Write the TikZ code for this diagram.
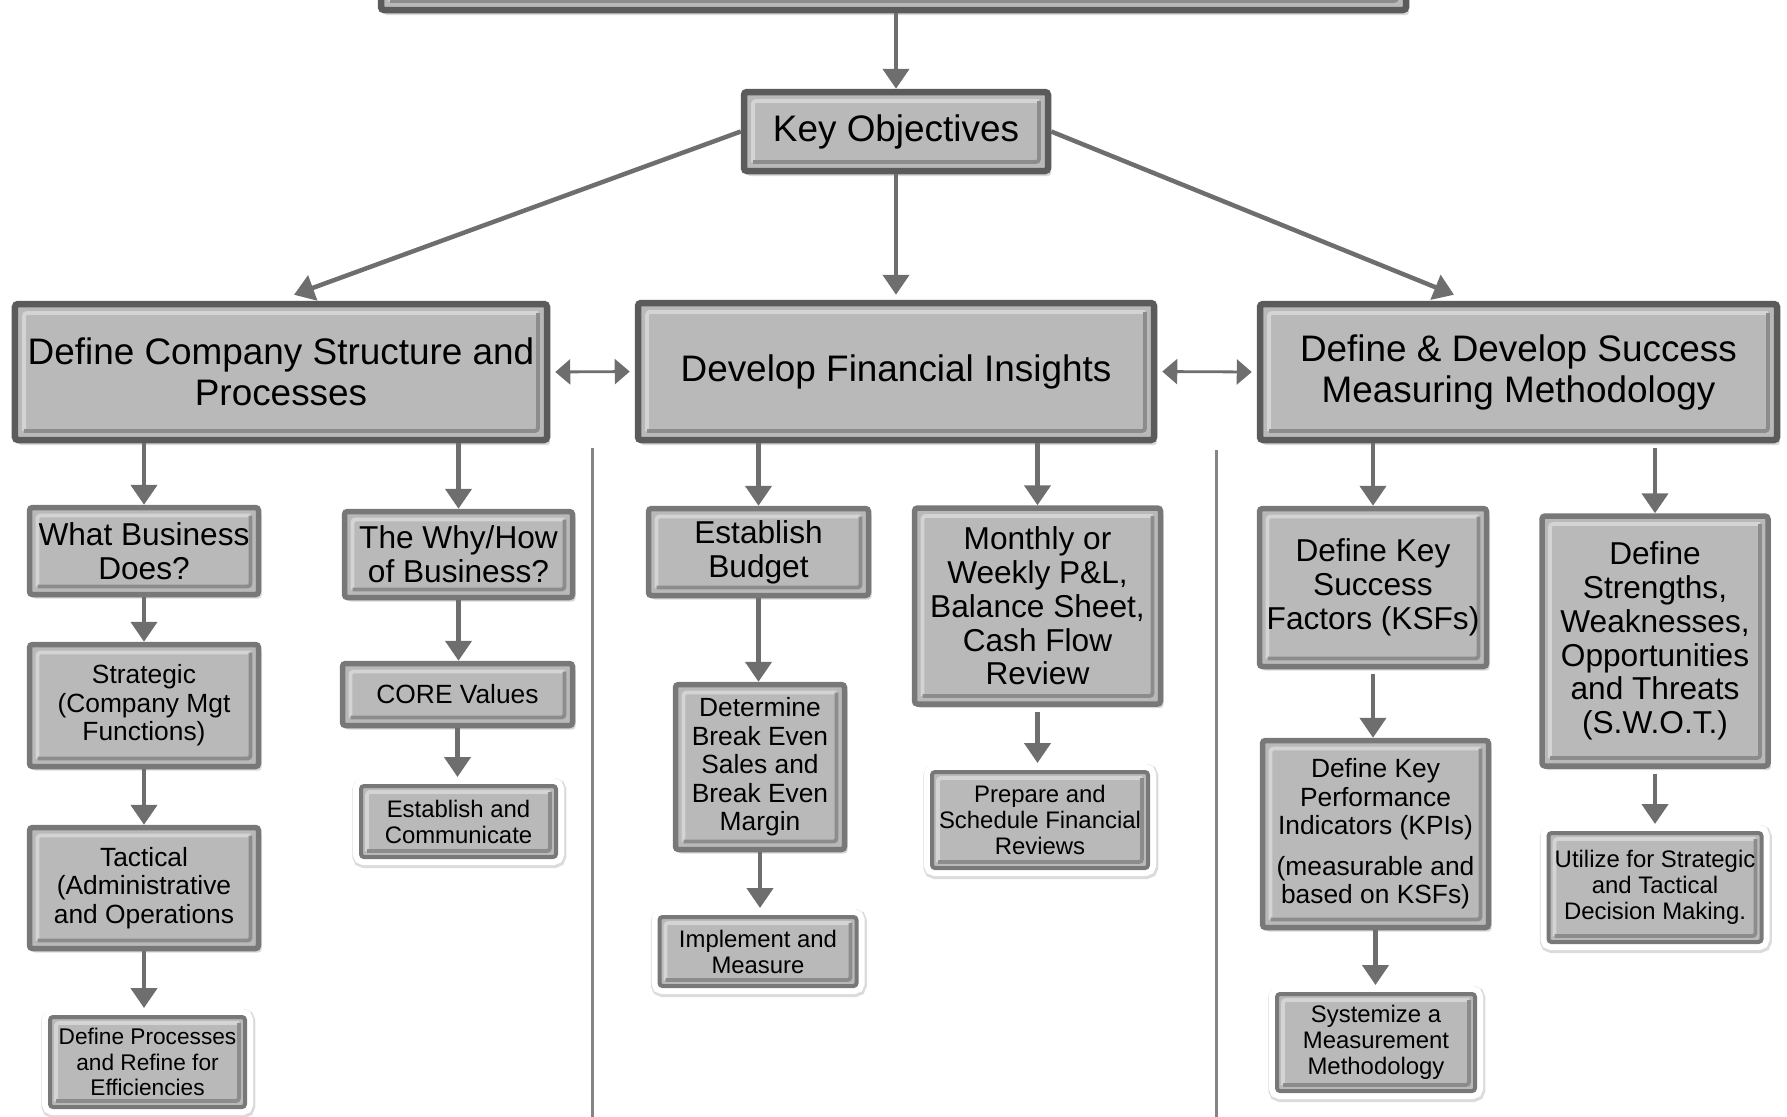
\documentclass[tikz,border=0pt]{standalone}
\usepackage{fontspec}
\setmainfont{Liberation Sans}
\usepackage{tikz}
\usetikzlibrary{arrows.meta,shadows}

\definecolor{boxface}{HTML}{B9B9B9}
\definecolor{edgedark}{HTML}{5B5B5B}
\definecolor{edgemid}{HTML}{787878}
\definecolor{linkgray}{HTML}{6E6E6E}
\definecolor{rulegray}{HTML}{858585}
\definecolor{bevlight}{HTML}{D4D4D4}
\definecolor{bevdark}{HTML}{8C8C8C}

\begin{document}
\begin{tikzpicture}[
bevelled/.style={path picture={
  \draw[bevlight,line width=1.1pt] ([shift={(#1,#1)}]path picture bounding box.south west) |- ([shift={(-#1,-#1)}]path picture bounding box.north east);
  \draw[bevdark,line width=1.1pt] ([shift={(#1,#1)}]path picture bounding box.south west) -| ([shift={(-#1,-#1)}]path picture bounding box.north east);
}},
boxbase/.style={fill=boxface, rounded corners=0.03cm, inner sep=0pt, align=center},
mainbox/.style={boxbase, draw=edgedark, line width=0.065cm, bevelled=0.09cm,
  drop shadow={shadow xshift=0.03cm, shadow yshift=-0.05cm, opacity=0.3},
  font=\fontsize{10.5}{11.7}\selectfont},
subbox/.style={boxbase, draw=edgemid, line width=0.055cm, bevelled=0.08cm,
  drop shadow={shadow xshift=0.03cm, shadow yshift=-0.04cm, opacity=0.3},
  font=\fontsize{9}{9.6}\selectfont},
smalltxt/.style={font=\fontsize{7.5}{8.1}\selectfont},
endbox/.style={boxbase, draw=edgemid, line width=0.04cm, bevelled=0.06cm,
  preaction={draw=black!14, line width=0.19cm, transform canvas={shift={(0.008cm,-0.015cm)}}},
  preaction={draw=white, line width=0.16cm},
  font=\fontsize{6.8}{7.4}\selectfont},
link/.style={draw=linkgray, line width=0.045cm, -{Triangle[width=0.26cm,length=0.2cm]}},
duallink/.style={draw=linkgray, line width=0.028cm, {Triangle[width=0.25cm,length=0.15cm]}-{Triangle[width=0.25cm,length=0.15cm]}, shorten <=0.05cm, shorten >=0.05cm}
]
\useasboundingbox (0,0) rectangle (17.87,-11.16);

% The top
\node[mainbox, minimum width=10.25cm, minimum height=0.6cm] (top) at (8.935,0.20) {};
\node[mainbox, minimum width=3.04cm, minimum height=0.79cm] (keyobj) at (8.96,-1.315) {Key Objectives};

% The three branches
\node[mainbox, minimum width=5.32cm, minimum height=1.36cm] (struct) at (2.81,-3.72) {Define Company Structure and\\Processes};
\node[mainbox, minimum width=5.16cm, minimum height=1.37cm] (fin) at (8.96,-3.715) {Develop Financial Insights};
\node[mainbox, minimum width=5.17cm, minimum height=1.36cm] (meas) at (15.185,-3.72) {Define \& Develop Success\\Measuring Methodology};

% Company structure
\node[subbox, minimum width=2.29cm, minimum height=0.87cm] (what) at (1.44,-5.51) {What Business\\Does?};
\node[subbox, smalltxt, minimum width=2.29cm, minimum height=1.22cm] (strat) at (1.44,-7.055) {Strategic\\(Company Mgt\\Functions)};
\node[subbox, smalltxt, minimum width=2.29cm, minimum height=1.21cm] (tact) at (1.44,-8.88) {Tactical\\(Administrative\\and Operations};
\node[endbox, font=\fontsize{6.45}{7.3}\selectfont, minimum width=1.95cm, minimum height=0.90cm] (procs) at (1.475,-10.62) {Define Processes\\and Refine for\\Efficiencies};
\node[subbox, minimum width=2.28cm, minimum height=0.86cm] (whyhow) at (4.585,-5.545) {The Why/How\\of Business?};
\node[subbox, smalltxt, minimum width=2.30cm, minimum height=0.62cm] (core) at (4.575,-6.945) {CORE Values};
\node[endbox, minimum width=1.95cm, minimum height=0.71cm] (comm) at (4.585,-8.215) {Establish and\\Communicate};

% Financial insights
\node[subbox, minimum width=2.20cm, minimum height=0.87cm] (budget) at (7.585,-5.52) {Establish\\Budget};
\node[subbox, smalltxt, minimum width=1.69cm, minimum height=1.65cm] (breakeven) at (7.60,-7.67) {Determine\\Break Even\\Sales and\\Break Even\\Margin};
\node[endbox, minimum width=1.97cm, minimum height=0.69cm] (implement) at (7.58,-9.515) {Implement and\\Measure};
\node[subbox, minimum width=2.46cm, minimum height=1.96cm] (monthly) at (10.375,-6.06) {Monthly or\\Weekly P\&L,\\Balance Sheet,\\Cash Flow\\Review};
\node[endbox, minimum width=2.16cm, minimum height=0.96cm] (prepare) at (10.40,-8.20) {Prepare and\\Schedule Financial\\Reviews};

% Success measuring
\node[subbox, minimum width=2.27cm, minimum height=1.58cm] (ksf) at (13.73,-5.875) {Define Key\\Success\\Factors (KSFs)};
\node[subbox, smalltxt, minimum width=2.26cm, minimum height=1.87cm] (kpi) at (13.755,-8.34) {Define Key\\Performance\\Indicators (KPIs)\\[3.5pt](measurable and\\based on KSFs)};
\node[endbox, minimum width=1.98cm, minimum height=0.97cm] (sys) at (13.76,-10.425) {Systemize a\\Measurement\\Methodology};
\node[subbox, minimum width=2.26cm, minimum height=2.50cm] (swot) at (16.55,-6.41) {Define\\Strengths,\\Weaknesses,\\Opportunities\\and Threats\\(S.W.O.T.)};
\node[endbox, minimum width=2.13cm, minimum height=1.09cm] (util) at (16.55,-8.875) {Utilize for Strategic\\and Tactical\\Decision Making.};

% The separators
\draw[rulegray, line width=0.03cm] (5.92,-4.48) -- (5.92,-11.3);
\draw[rulegray, line width=0.03cm] (12.16,-4.50) -- (12.16,-11.3);

% The links
\draw[link] (top.south -| keyobj.north) -- (keyobj.north);
\draw[link] (keyobj.west) -- ([xshift=0.13cm,yshift=0.06cm]struct.north);
\draw[link, shorten >=0.05cm] (keyobj.south) -- (fin.north);
\draw[link] (keyobj.east) -- ([xshift=-0.645cm,yshift=0.06cm]meas.north);
\draw[duallink] (struct.east) -- (fin.west);
\draw[duallink] (fin.east) -- (meas.west);

\draw[link] (struct.south -| what.north) -- (what.north);
\draw[link] (what.south) -- (what.south |- strat.north);
\draw[link] (strat.south) -- (strat.south |- tact.north);
\draw[link] (tact.south) -- ([yshift=0.07cm]tact.south |- procs.north);
\draw[link] (struct.south -| whyhow.north) -- (whyhow.north);
\draw[link] (whyhow.south) -- (whyhow.south |- core.north);
\draw[link] (core.south) -- ([yshift=0.07cm]core.south |- comm.north);

\draw[link] (fin.south -| budget.north) -- (budget.north);
\draw[link] (budget.south) -- (budget.south |- breakeven.north);
\draw[link] (breakeven.south) -- ([yshift=0.07cm]breakeven.south |- implement.north);
\draw[link] (fin.south -| monthly.north) -- (monthly.north);
\draw[link] ([yshift=-0.05cm]monthly.south) -- ([yshift=0.07cm]monthly.south |- prepare.north);

\draw[link] (meas.south -| ksf.north) -- (ksf.north);
\draw[link] ([yshift=-0.05cm]ksf.south) -- (ksf.south |- kpi.north);
\draw[link] (kpi.south) -- ([yshift=0.07cm]kpi.south |- sys.north);
\draw[link] ([yshift=-0.05cm]meas.south -| swot.north) -- (swot.north);
\draw[link] ([yshift=-0.05cm]swot.south) -- ([yshift=0.07cm]swot.south |- util.north);
\end{tikzpicture}
\end{document}
